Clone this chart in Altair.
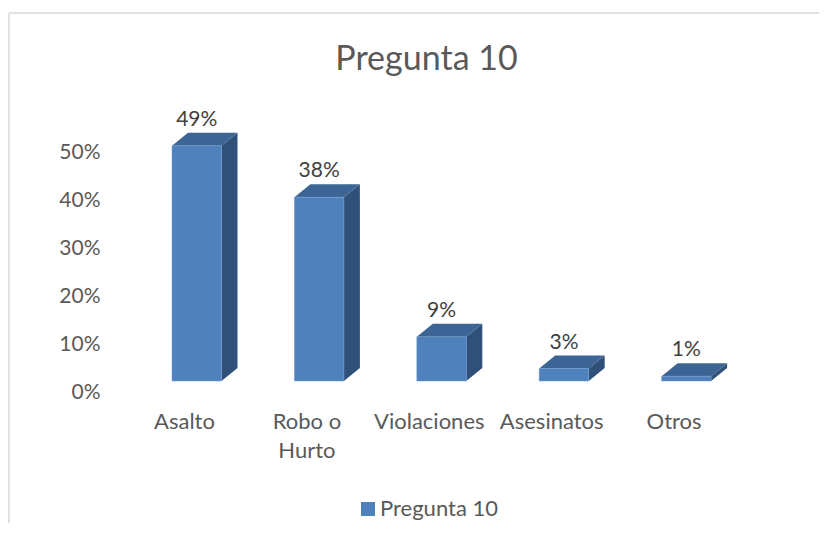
import altair as alt
import pandas as pd

categories = ["Asalto", "Robo o Hurto", "Violaciones", "Asesinatos", "Otros"]
cat_lines = [["Asalto"], ["Robo o", "Hurto"], ["Violaciones"], ["Asesinatos"], ["Otros"]]
values = [49.0, 38.3, 9.2, 2.6, 1.0]
series_name = "Pregunta 10"
y_ticks = [0, 10, 20, 30, 40, 50]

FONT = "Lato"
PLOT_W, PLOT_H = 711, 302
PAD_L, PAD_T = 92, 82
CAT_STEP = 122.4
PCT_PX = 4.8
BASE = 11 / PCT_PX
DY = 13 / PCT_PX
DX = 16 / CAT_STEP
X_LEFT = -12 / CAT_STEP
X_RIGHT = 37.5 / CAT_STEP
X_DOMAIN = [-84 / CAT_STEP, (PLOT_W - 84) / CAT_STEP]
Y_DOMAIN = [0, PLOT_H / PCT_PX]

xs = alt.Scale(domain=X_DOMAIN, nice=False, zero=False)
ys = alt.Scale(domain=Y_DOMAIN, nice=False, zero=False)

front, side, top, labels = [], [], [], []
for i, (c, v) in enumerate(zip(categories, values)):
    x0, x1, b, t = i + X_LEFT, i + X_RIGHT, BASE, BASE + v
    front.append(dict(series=series_name, x0=x0, x1=x1, b=b, t=t))
    side += [dict(cat=c, x=x1, y=b, y2=t), dict(cat=c, x=x1 + DX, y=b + DY, y2=t + DY)]
    top += [dict(cat=c, y=t, x=x0, x2=x1), dict(cat=c, y=t + DY, x=x0 + DX, x2=x1 + DX)]
    labels.append(dict(x=(x0 + x1) / 2, y=t + DY, v=v))

cases = "".join(
    f"datum.value=={i}?[{','.join(repr(s) for s in lines)}]:" for i, lines in enumerate(cat_lines)
) + "''"

front_layer = alt.Chart(pd.DataFrame(front)).mark_rect(stroke="#6f9bd1", strokeWidth=0.5).encode(
    x=alt.X("x0:Q", scale=xs, axis=alt.Axis(
        values=[0, 1, 2, 3, 4], labelExpr=cases, title=None, domain=False, ticks=False, grid=False,
        labelFont=FONT, labelFontSize=22, labelColor="#595959", labelPadding=19,
        labelLineHeight=29, labelFlush=False, labelOverlap=False, labelAlign="center")),
    x2="x1:Q",
    y=alt.Y("b:Q", scale=ys, axis=alt.Axis(
        values=y_ticks, labelExpr="datum.value+'%'", title=None, domain=False, ticks=False, grid=False,
        labelFont=FONT, labelFontSize=21, labelColor="#595959", labelPadding=0)),
    y2="t:Q",
    color=alt.Color("series:N", scale=alt.Scale(domain=[series_name], range=["#4f81bd"]),
                    legend=alt.Legend(title=None, orient="none", legendX=257, legendY=408,
                                      symbolType="square", symbolSize=196, symbolStrokeWidth=0,
                                      labelFont=FONT, labelFontSize=22, labelColor="#595959",
                                      labelOffset=1)),
)

side_layer = alt.Chart(pd.DataFrame(side)).mark_area(color="#2f5179", interpolate="linear").encode(
    x=alt.X("x:Q", scale=xs), y=alt.Y("y:Q", scale=ys), y2="y2:Q", detail="cat:N")

top_layer = alt.Chart(pd.DataFrame(top)).mark_area(color="#3c6494", orient="horizontal").encode(
    y=alt.Y("y:Q", scale=ys), x=alt.X("x:Q", scale=xs), x2="x2:Q", detail="cat:N")

label_layer = alt.Chart(pd.DataFrame(labels)).transform_calculate(
    txt="format(datum.v,'.0f')+'%'"
).mark_text(font=FONT, fontSize=21, color="#404040", baseline="middle", dy=-13).encode(
    x=alt.X("x:Q", scale=xs), y=alt.Y("y:Q", scale=ys), text="txt:N")

border_left = alt.Chart(pd.DataFrame({"a": [0]})).mark_rule(color="#d9d9d9", strokeWidth=1.5).encode(
    x=alt.value(-91), y=alt.value(-77), y2=alt.value(PLOT_H + 200))
border_top = alt.Chart(pd.DataFrame({"a": [0]})).mark_rule(color="#d9d9d9", strokeWidth=1.5).encode(
    y=alt.value(-77), x=alt.value(-91), x2=alt.value(PLOT_W + 100))

chart = alt.layer(
    border_left, border_top, side_layer, top_layer, front_layer, label_layer
).properties(
    width=PLOT_W, height=PLOT_H,
    title=alt.TitleParams(series_name, font=FONT, fontSize=34, fontWeight="normal", color="#595959",
                          anchor="middle", frame="group", dx=-29, offset=-65),
    autosize=alt.AutoSizeParams(type="none"),
    padding={"left": PAD_L, "top": PAD_T, "right": 8, "bottom": 131},
).configure_view(stroke=None)

chart.save("out.html", embed_options={"renderer": "svg", "actions": False})
